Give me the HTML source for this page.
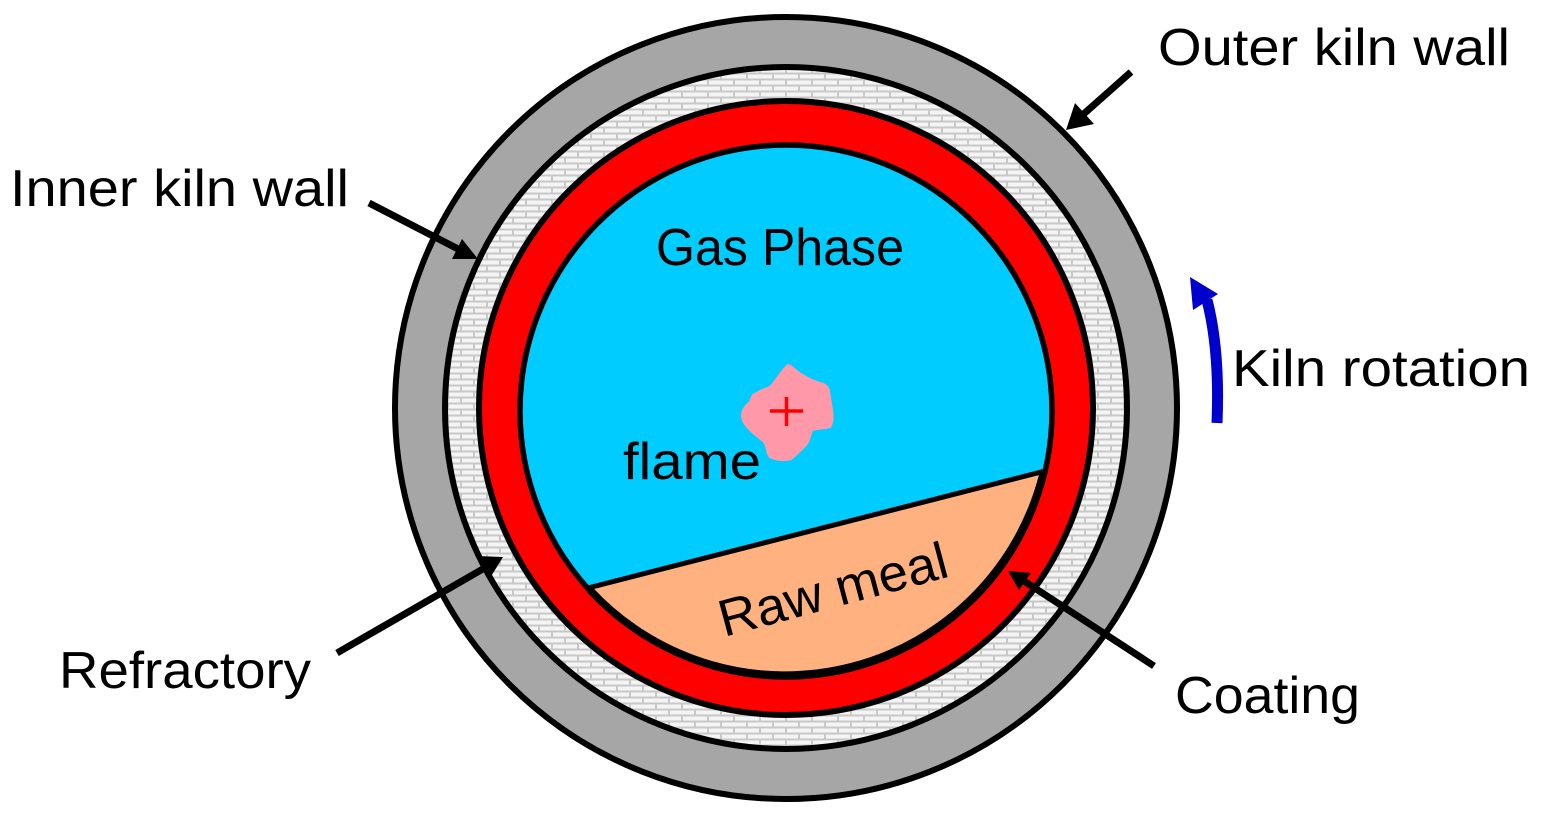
<!DOCTYPE html>
<html>
<head>
<meta charset="utf-8">
<style>
html,body{margin:0;padding:0;background:#fff;}
svg{display:block;}
text{font-family:"Liberation Sans",sans-serif;fill:#000;}
</style>
</head>
<body>
<svg width="1542" height="815" viewBox="0 0 1542 815" xmlns="http://www.w3.org/2000/svg">
<defs>
<pattern id="brick" width="26" height="12" patternUnits="userSpaceOnUse">
<rect width="26" height="12" fill="#f4f4f4"/>
<path d="M0 1.5H26M0 7.5H26M6 0V1.5M19 1.5V7.5M6 7.5V12" stroke="#c8c8c8" stroke-width="2" fill="none"/>
</pattern>
<clipPath id="inner"><circle cx="786" cy="411" r="266"/></clipPath>
</defs>

<circle cx="786" cy="408" r="391" fill="#a6a6a6" stroke="#000" stroke-width="6"/>
<circle cx="786" cy="408" r="341" fill="url(#brick)" stroke="#000" stroke-width="6"/>
<circle cx="786" cy="408" r="307" fill="#ff0000" stroke="#000" stroke-width="6"/>

<circle cx="786" cy="411" r="266" fill="#00ccff"/>
<polygon clip-path="url(#inner)" points="588,588 1045,471 1100,460 1100,720 500,720 500,600" fill="#ffb27f"/>
<line x1="588" y1="588" x2="1045" y2="471" stroke="#000" stroke-width="5"/>
<circle cx="786" cy="411" r="266" fill="none" stroke="#000" stroke-width="5.5"/>
<path d="M590 590 A266 266 0 0 0 1043 474" fill="none" stroke="#000" stroke-width="7.5"/>

<path fill="#ff99aa" stroke="#ff99aa" stroke-width="2" stroke-linejoin="round" d="M788 365 C793 366 796 372 801 374 C807 378 813 381 820 383 C825 384 828 386 829 391 C830 397 831 404 832 410 C833 417 833 423 830 427 C825 429 818 428 812 430 C810 435 810 440 806 445 C801 450 796 455 791 459 C784 461 776 460 770 457 C766 453 768 447 764 442 C759 437 754 434 750 430 C746 426 742 421 742 416 C742 411 745 406 750 402 C751 399 752 397 753 395 C757 393 761 390 765 389 C770 388 772 385 775 381 C779 376 783 369 788 365Z"/>
<path d="M770 411H803M786.5 397V426" stroke="#ff0000" stroke-width="3.5" fill="none"/>

<!-- black arrows -->
<g stroke="#000" stroke-width="7" fill="#000">
<line x1="1131" y1="72" x2="1078" y2="119"/>
<line x1="369" y1="203" x2="462" y2="251"/>
<line x1="337" y1="653" x2="488" y2="566"/>
<line x1="1154" y1="666" x2="1024" y2="581"/>
</g>
<polygon fill="#000" points="1066,130 1075,103 1094,124"/>
<polygon fill="#000" points="478,259 452,259 462,239"/>
<polygon fill="#000" points="503,557 490,578 477,556"/>
<polygon fill="#000" points="1008,571 1031,573 1019,590"/>

<!-- rotation arrow -->
<path d="M1217 423 C1219 375 1216 335 1207 300" fill="none" stroke="#0000cc" stroke-width="11"/>
<polygon fill="#0000cc" points="1190,277 1218,294 1193,310"/>

<!-- labels -->
<text x="1158" y="65" font-size="52" textLength="352" lengthAdjust="spacingAndGlyphs">Outer kiln wall</text>
<text x="10" y="206" font-size="52" textLength="339" lengthAdjust="spacingAndGlyphs">Inner kiln wall</text>
<text x="656" y="265" font-size="52" textLength="248" lengthAdjust="spacingAndGlyphs">Gas Phase</text>
<text x="1232" y="386" font-size="52" textLength="298" lengthAdjust="spacingAndGlyphs">Kiln rotation</text>
<text x="623" y="479" font-size="52" textLength="138" lengthAdjust="spacingAndGlyphs">flame</text>
<text x="59" y="688" font-size="52" textLength="252" lengthAdjust="spacingAndGlyphs">Refractory</text>
<text x="1175" y="713" font-size="52" textLength="185" lengthAdjust="spacingAndGlyphs">Coating</text>
<text transform="translate(724,637) rotate(-15)" font-size="52" textLength="235" lengthAdjust="spacingAndGlyphs">Raw meal</text>
</svg>
</body>
</html>
